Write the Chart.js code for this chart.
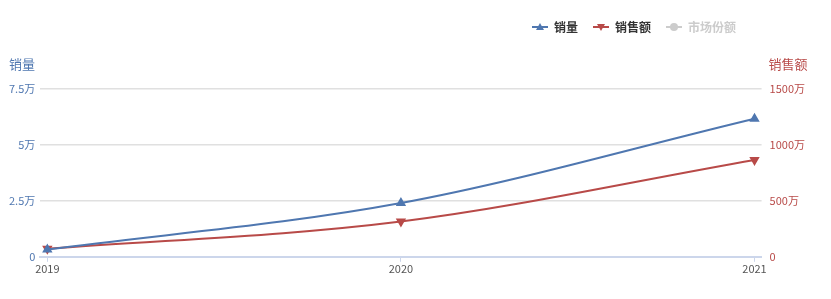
<!DOCTYPE html>
<html>
<head>
<meta charset="utf-8">
<script src="https://cdn.jsdelivr.net/npm/chart.js@4.4.0/dist/chart.umd.min.js"></script>
<style>
  body { margin: 0; background: #fff; }
  #wrap { width: 831px; height: 299px; position: relative; }
</style>
</head>
<body>
<div id="wrap"><canvas id="canvasSales"></canvas></div>
<script>
var years = [2019, 2020, 2021];
var volume = [3300, 24000, 61700];      // 销量
var revenue = [71, 315, 865];           // 销售额 (万)
var share = [];                         // 市场份额 (hidden)
var volumeTicks = [0, 25000, 50000, 75000];
var revenueTicks = [0, 500, 1000, 1500];

var BLUE = '#4f77b0';
var RED = '#b84a48';
var GREY = '#cccccc';
var FONT = "'Noto Sans CJK SC', 'Noto Sans', sans-serif";

function legendIcon(color, shape) {
  var c = document.createElement('canvas');
  c.width = 16; c.height = 10;
  var g = c.getContext('2d');
  g.strokeStyle = color; g.fillStyle = color; g.lineWidth = 2;
  g.beginPath(); g.moveTo(0, 5); g.lineTo(16, 5); g.stroke();
  g.beginPath();
  if (shape === 'up') { g.moveTo(8, 1); g.lineTo(12, 8); g.lineTo(4, 8); }
  else if (shape === 'down') { g.moveTo(4, 2); g.lineTo(12, 2); g.lineTo(8, 9); }
  else { g.arc(8, 5, 4, 0, Math.PI * 2); }
  g.closePath(); g.fill();
  return c;
}

function pts(vals) {
  return vals.map(function(v, i) { return { x: years[i], y: v }; });
}

// extra room under the legend, and pull legend in from the right edge
var legendSpace = {
  id: 'legendSpace',
  beforeInit: function(chart) {
    var fit = chart.legend.fit;
    chart.legend.fit = function() {
      fit.bind(chart.legend)();
      this.height += 46;
    };
  },
  afterLayout: function(chart) {
    chart.legend.right -= 62;
  }
};

var axisTitles = {
  id: 'axisTitles',
  afterDraw: function(chart) {
    var ctx = chart.ctx;
    var y = chart.scales.y, y1 = chart.scales.y1;
    ctx.save();
    ctx.font = '13px ' + FONT;
    ctx.textBaseline = 'middle';
    ctx.textAlign = 'left';
    ctx.fillStyle = BLUE;
    ctx.fillText('销量', 9, y.top - 25);
    ctx.fillStyle = RED;
    ctx.fillText('销售额', y1.left + 7, y1.top - 25);
    ctx.restore();
  }
};

var ctx = document.getElementById('canvasSales');
var chart = new Chart(ctx, {
  type: 'line',
  data: {
    datasets: [
      {
        label: '销量',
        data: pts(volume),
        yAxisID: 'y',
        borderColor: BLUE,
        backgroundColor: BLUE,
        borderWidth: 2,
        pointStyle: 'triangle',
        pointRadius: 4,
        cubicInterpolationMode: 'monotone'
      },
      {
        label: '销售额',
        data: pts(revenue),
        yAxisID: 'y1',
        borderColor: RED,
        backgroundColor: RED,
        borderWidth: 2,
        pointStyle: 'triangle',
        rotation: 180,
        pointRadius: 4,
        cubicInterpolationMode: 'monotone'
      },
      {
        label: '市场份额',
        data: pts(share),
        yAxisID: 'y',
        hidden: true,
        borderColor: GREY,
        backgroundColor: GREY
      }
    ]
  },
  options: {
    responsive: true,
    maintainAspectRatio: false,
    animation: false,
    layout: { padding: { top: 6, right: 18, left: 4, bottom: 24 } },
    plugins: {
      tooltip: { enabled: false },
      legend: {
        position: 'top',
        align: 'end',
        labels: {
          usePointStyle: true,
          pointStyleWidth: 16,
          boxHeight: 10,
          padding: 15,
          font: { family: FONT, size: 12, weight: 'bold' },
          generateLabels: function(chart) {
            var icons = [legendIcon(BLUE, 'up'), legendIcon(RED, 'down'), legendIcon(GREY, 'circle')];
            return chart.data.datasets.map(function(ds, i) {
              var hidden = !chart.isDatasetVisible(i);
              return {
                text: ds.label,
                datasetIndex: i,
                pointStyle: icons[i],
                fillStyle: ds.borderColor,
                strokeStyle: ds.borderColor,
                hidden: false,
                fontColor: hidden ? GREY : '#333333'
              };
            });
          }
        }
      }
    },
    scales: {
      x: {
        type: 'linear',
        min: 2018.98,
        max: 2021.02,
        afterBuildTicks: function(axis) {
          axis.ticks = years.map(function(v) { return { value: v }; });
        },
        grid: {
          display: true,
          drawOnChartArea: false,
          drawTicks: true,
          tickLength: 5,
          color: '#ccd6eb'
        },
        border: { color: '#ccd6eb', width: 2 },
        ticks: {
          color: '#555',
          padding: 0,
          maxRotation: 0,
          font: { family: FONT, size: 11 },
          callback: function(v) { return String(v); }
        }
      },
      y: {
        position: 'left',
        min: 0,
        max: 75000,
        afterBuildTicks: function(axis) {
          axis.ticks = volumeTicks.map(function(v) { return { value: v }; });
        },
        grid: { color: '#e0e0e0', lineWidth: 1.5, drawTicks: false },
        border: { display: false },
        ticks: {
          color: BLUE,
          padding: 5,
          font: { family: FONT, size: 11 },
          callback: function(v) { return v === 0 ? '0' : (v / 10000) + '万'; }
        }
      },
      y1: {
        position: 'right',
        min: 0,
        max: 1500,
        afterBuildTicks: function(axis) {
          axis.ticks = revenueTicks.map(function(v) { return { value: v }; });
        },
        grid: { display: false, drawTicks: false },
        border: { display: false },
        ticks: {
          color: RED,
          padding: 8,
          font: { family: FONT, size: 11 },
          callback: function(v) { return v === 0 ? '0' : v + '万'; }
        }
      }
    }
  },
  plugins: [legendSpace, axisTitles]
});
</script>
</body>
</html>
